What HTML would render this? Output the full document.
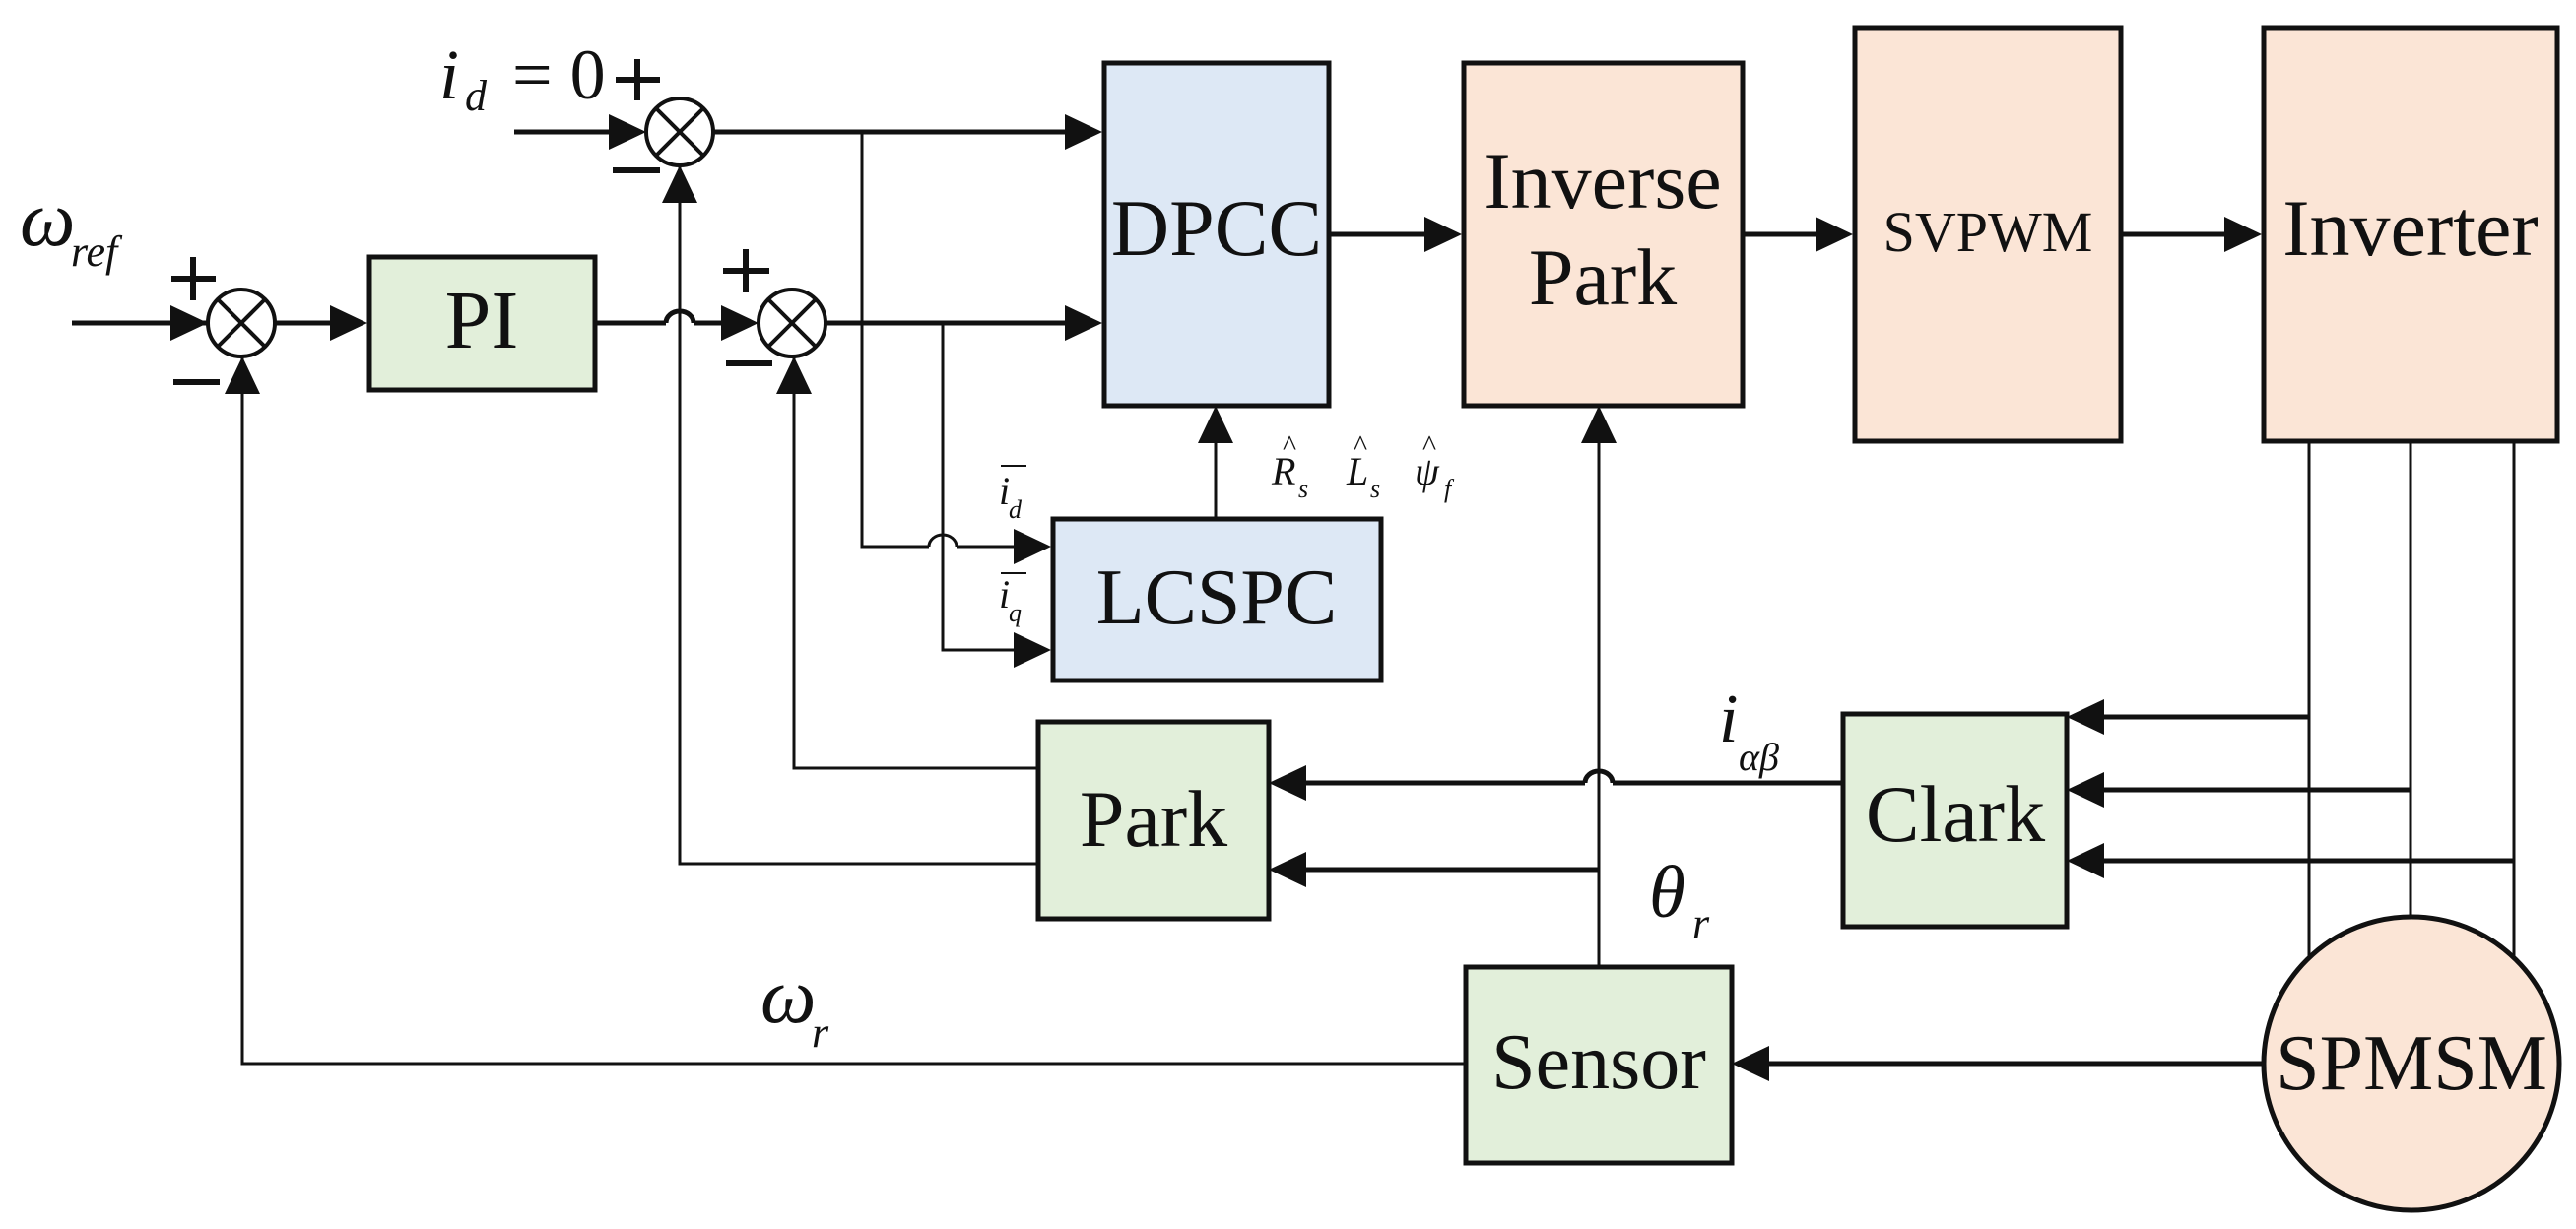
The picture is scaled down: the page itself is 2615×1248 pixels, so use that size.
<!DOCTYPE html>
<html><head><meta charset="utf-8"><style>
html,body{margin:0;padding:0;background:#fff;}
svg{display:block;}
text{font-family:"Liberation Serif",serif;fill:#111;}
.it{font-style:italic;}
</style></head><body>
<svg width="2615" height="1248" viewBox="0 0 2615 1248" xmlns="http://www.w3.org/2000/svg">
<defs>
<marker id="a" markerWidth="10" markerHeight="10" refX="10" refY="5" orient="auto" markerUnits="userSpaceOnUse" viewBox="0 0 10 10" style="overflow:visible">
</marker>
</defs>
<g stroke="#111" fill="none" stroke-linecap="butt">
<!-- thin feedback/branch lines -->
<g stroke-width="3">
<!-- J1 feedback omega_r -->
<polyline points="246,362 246,1080 1487,1080"/>
<!-- J0 feedback from Park -->
<polyline points="690,168 690,877 1054,877"/>
<!-- J2 feedback -->
<polyline points="806,362 806,780 1054,780"/>
<!-- branch id to LCSPC -->
<polyline points="875,134 875,555 943,555"/>
<path d="M943,555 A14,12 0 0 1 971,555"/>
<polyline points="971,555 1030,555"/>
<!-- branch iq -->
<polyline points="957,328 957,660 1030,660"/>
<!-- LCSPC up -->
<line x1="1234" y1="525" x2="1234" y2="448"/>
<!-- theta line -->
<line x1="1623" y1="980" x2="1623" y2="448"/>
<!-- inverter legs -->
<line x1="2344" y1="448" x2="2344" y2="1000"/>
<line x1="2447" y1="448" x2="2447" y2="960"/>
<line x1="2552" y1="448" x2="2552" y2="1000"/>
</g>
<g stroke-width="5">
<line x1="73" y1="328" x2="211" y2="328"/>
<line x1="279" y1="328" x2="340" y2="328"/>
<polyline points="604,328 676,328"/>
<path d="M676,328 A14,12 0 0 1 704,328"/>
<line x1="704" y1="328" x2="735" y2="328"/>
<line x1="838" y1="328" x2="1082" y2="328"/>
<line x1="522" y1="134" x2="620" y2="134"/>
<line x1="724" y1="134" x2="1082" y2="134"/>
<line x1="1349" y1="238" x2="1447" y2="238"/>
<line x1="1769" y1="238" x2="1844" y2="238"/>
<line x1="2153" y1="238" x2="2259" y2="238"/>
<line x1="1623" y1="883" x2="1325" y2="883"/>
<line x1="1871" y1="795" x2="1637" y2="795"/>
<path d="M1637,795 A14,12 0 0 0 1609,795"/>
<line x1="1609" y1="795" x2="1325" y2="795"/>
<line x1="2344" y1="728" x2="2135" y2="728"/>
<line x1="2447" y1="802" x2="2135" y2="802"/>
<line x1="2552" y1="874" x2="2135" y2="874"/>
<line x1="2300" y1="1080" x2="1795" y2="1080"/>
</g>
</g>
<!-- arrowheads -->
<g fill="#111">
<polygon points="211,328 173,310 173,346"/>
<polygon points="373,328 335,310 335,346"/>
<polygon points="770,328 732,310 732,346"/>
<polygon points="1119,328 1081,310 1081,346"/>
<polygon points="656,134 618,116 618,152"/>
<polygon points="1119,134 1081,116 1081,152"/>
<polygon points="1067,555 1029,537 1029,573"/>
<polygon points="1067,660 1029,642 1029,678"/>
<polygon points="1484,238 1446,220 1446,256"/>
<polygon points="1881,238 1843,220 1843,256"/>
<polygon points="2296,238 2258,220 2258,256"/>
<polygon points="246,362 228,400 264,400"/>
<polygon points="690,168 672,206 708,206"/>
<polygon points="806,362 788,400 824,400"/>
<polygon points="1234,412 1216,450 1252,450"/>
<polygon points="1623,412 1605,450 1641,450"/>
<polygon points="1288,795 1326,777 1326,813"/>
<polygon points="1288,883 1326,865 1326,901"/>
<polygon points="2098,728 2136,710 2136,746"/>
<polygon points="2098,802 2136,784 2136,820"/>
<polygon points="2098,874 2136,856 2136,892"/>
<polygon points="1758,1080 1796,1062 1796,1098"/>
</g>
<!-- summing junctions -->
<g stroke="#111" stroke-width="4" fill="#fff">
<circle cx="245" cy="328" r="34"/>
<circle cx="804" cy="328" r="34"/>
<circle cx="690" cy="134" r="34"/>
</g>
<g stroke="#111" stroke-width="4">
<line x1="221" y1="304" x2="269" y2="352"/><line x1="269" y1="304" x2="221" y2="352"/>
<line x1="780" y1="304" x2="828" y2="352"/><line x1="828" y1="304" x2="780" y2="352"/>
<line x1="666" y1="110" x2="714" y2="158"/><line x1="714" y1="110" x2="666" y2="158"/>
</g>
<!-- plus / minus signs -->
<g stroke="#111" stroke-width="6">
<line x1="174" y1="283" x2="219" y2="283"/><line x1="196" y1="261" x2="196" y2="305"/>
<line x1="176" y1="388" x2="223" y2="388"/>
<line x1="734" y1="275" x2="781" y2="275"/><line x1="757" y1="253" x2="757" y2="297"/>
<line x1="737" y1="369" x2="784" y2="369"/>
<line x1="625" y1="81" x2="670" y2="81"/><line x1="647" y1="60" x2="647" y2="102"/>
<line x1="622" y1="173" x2="670" y2="173"/>
</g>
<!-- boxes -->
<g stroke="#111" stroke-width="5">
<rect x="375" y="261" width="229" height="135" fill="#e2efda"/>
<rect x="1121" y="64" width="228" height="348" fill="#dde8f5"/>
<rect x="1069" y="527" width="333" height="164" fill="#dde8f5"/>
<rect x="1486" y="64" width="283" height="348" fill="#fbe5d6"/>
<rect x="1883" y="28" width="270" height="420" fill="#fbe5d6"/>
<rect x="2298" y="28" width="298" height="420" fill="#fbe5d6"/>
<rect x="1054" y="733" width="234" height="200" fill="#e2efda"/>
<rect x="1871" y="725" width="227" height="216" fill="#e2efda"/>
<rect x="1488" y="982" width="270" height="199" fill="#e2efda"/>
<ellipse cx="2448" cy="1080" rx="150" ry="149" fill="#fbe5d6"/>
</g>
<!-- box labels -->
<g text-anchor="middle">
<text x="489" y="353" font-size="84">PI</text>
<text x="1235" y="259" font-size="82">DPCC</text>
<text x="1235" y="633" font-size="80">LCSPC</text>
<text x="1627" y="211" font-size="82">Inverse</text>
<text x="1627" y="309" font-size="82">Park</text>
<text x="2018" y="255" font-size="58">SVPWM</text>
<text x="2447" y="259" font-size="82">Inverter</text>
<text x="1171" y="859" font-size="82">Park</text>
<text x="1985" y="854" font-size="82">Clark</text>
<text x="1623" y="1105" font-size="80">Sensor</text>
<text x="2448" y="1106" font-size="80">SPMSM</text>
</g>
<!-- math labels -->
<text x="20" y="249" font-size="80" class="it">ω</text>
<text x="72" y="270" font-size="44" class="it">ref</text>
<text x="446" y="100" font-size="72" class="it">i</text>
<text x="472" y="112" font-size="44" class="it">d</text>
<text x="520" y="100" font-size="72">= 0</text>
<text x="1014" y="512" font-size="40" class="it">i</text>
<text x="1024" y="526" font-size="26" class="it">d</text>
<line x1="1016" y1="473" x2="1042" y2="473" stroke="#111" stroke-width="2"/>
<text x="1014" y="617" font-size="40" class="it">i</text>
<text x="1024" y="631" font-size="26" class="it">q</text>
<line x1="1016" y1="582" x2="1042" y2="582" stroke="#111" stroke-width="2"/>
<text x="1291" y="492" font-size="40" class="it">R</text>
<text x="1318" y="505" font-size="26" class="it">s</text>
<text x="1302" y="462" font-size="30">^</text>
<text x="1367" y="492" font-size="40" class="it">L</text>
<text x="1391" y="505" font-size="26" class="it">s</text>
<text x="1374" y="462" font-size="30">^</text>
<text x="1436" y="492" font-size="40" class="it">ψ</text>
<text x="1466" y="505" font-size="26" class="it">f</text>
<text x="1444" y="462" font-size="30">^</text>
<text x="1745" y="753" font-size="70" class="it">i</text>
<text x="1765" y="782" font-size="40" class="it">αβ</text>
<text x="1674" y="931" font-size="75" class="it">θ</text>
<text x="1718" y="952" font-size="44" class="it">r</text>
<text x="772" y="1038" font-size="80" class="it">ω</text>
<text x="824" y="1063" font-size="44" class="it">r</text>
</svg>
</body></html>
